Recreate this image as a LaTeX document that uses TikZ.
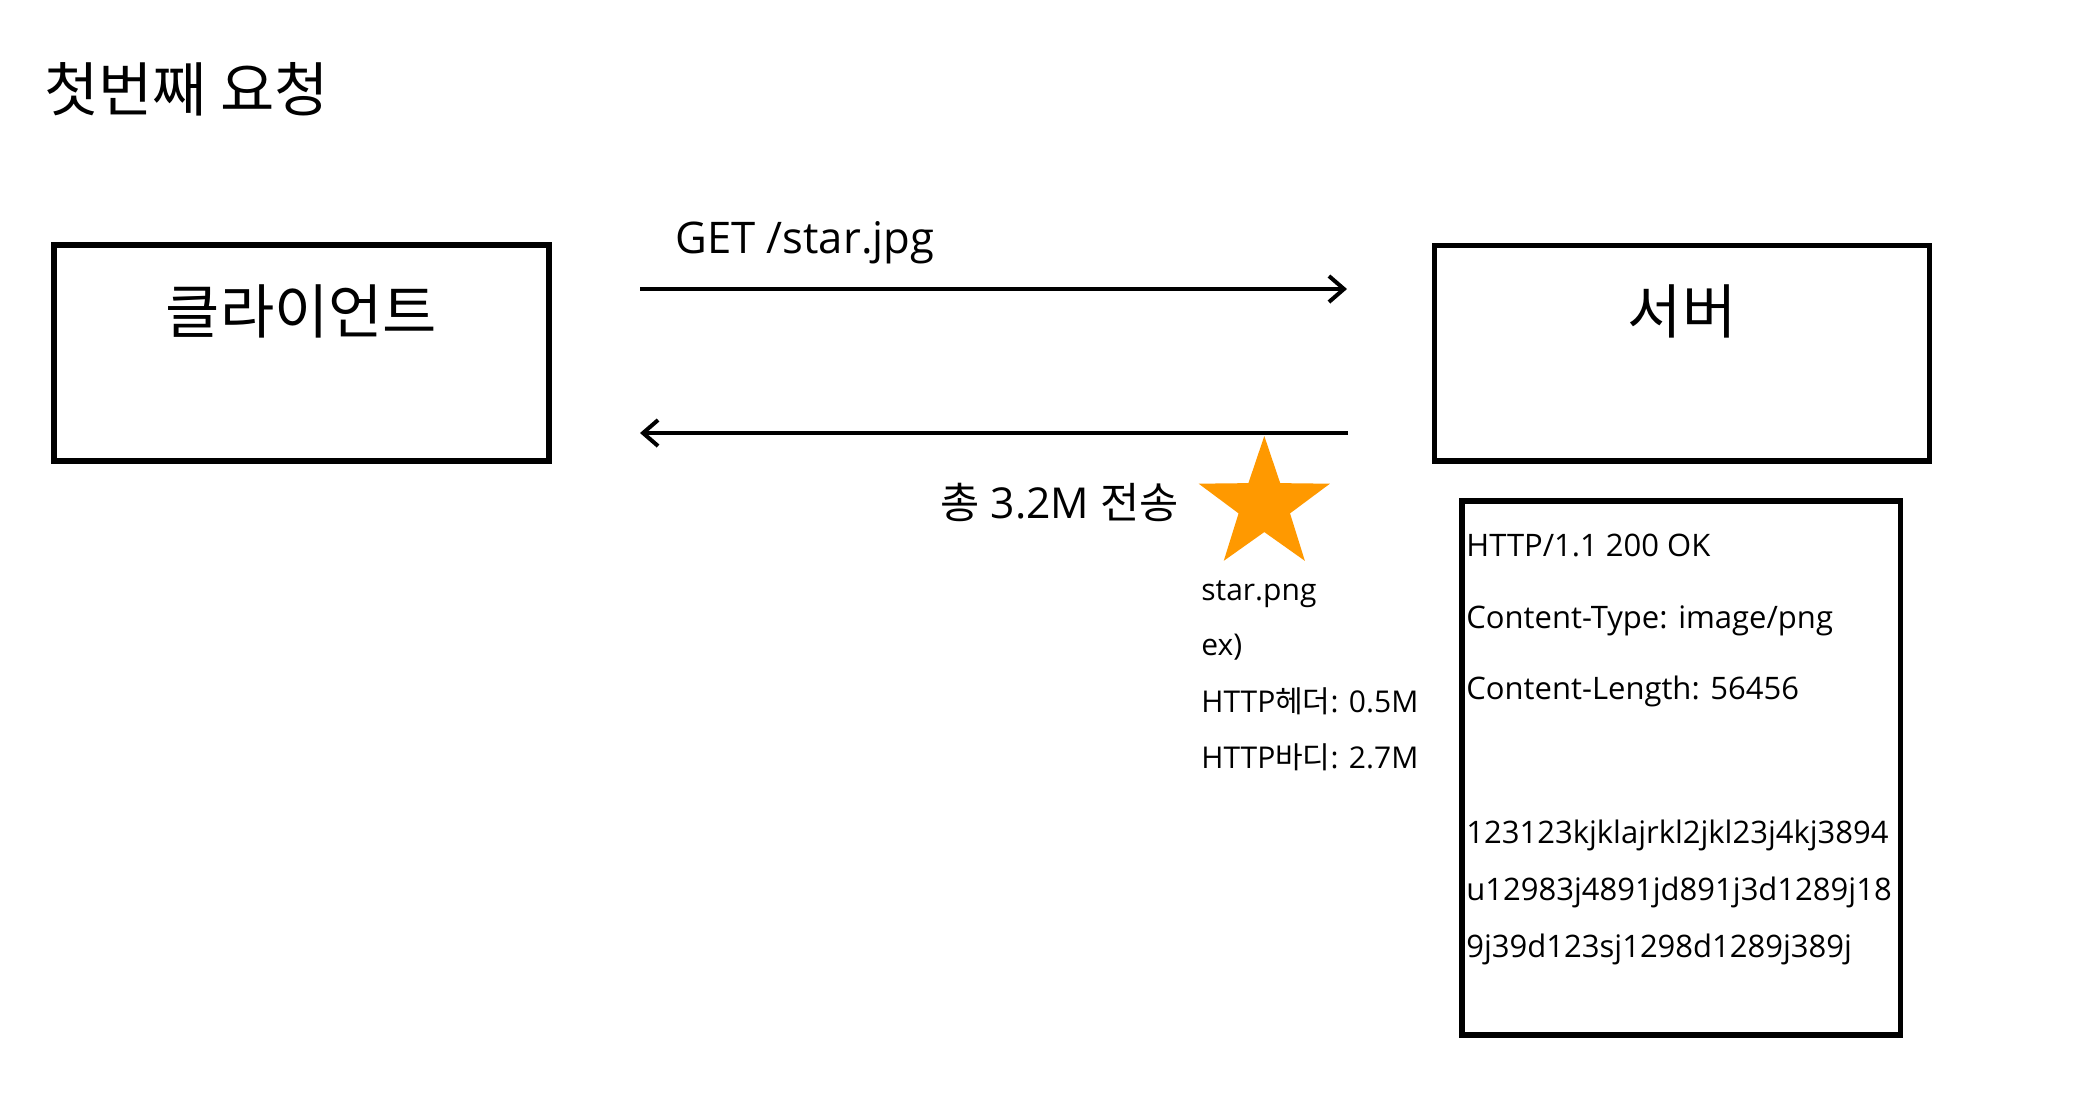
\documentclass[tikz,border=0pt]{standalone}
\usepackage{fontspec}
\setmainfont{Open Sans}
\newfontfamily\kr{Noto Sans CJK KR}
\usetikzlibrary{arrows.meta,shapes.geometric}
\definecolor{starorange}{HTML}{FF9900}
\begin{document}
\begin{tikzpicture}[x=0.5pt,y=-0.5pt,
  boxnode/.style={draw=black, line width=2.75pt, rectangle, inner sep=0pt},
  biglabel/.style={font=\kr\fontsize{29.5}{35}\selectfont, inner sep=0pt},
  msgarrow/.style={line width=2pt, -{Straight Barb[length=7.5pt,width=13pt]}},
  gettext/.style={anchor=base west, inner sep=0pt, font=\fontsize{21.8}{26}\selectfont},
  infotext/.style={anchor=base west, inner sep=0pt, font=\fontsize{15}{18}\selectfont},
  resptext/.style={anchor=base west, inner sep=0pt, font=\fontsize{15.5}{19}\selectfont}
]
\useasboundingbox[fill=white] (0,0) rectangle (2100,1116);

% title
\node[biglabel, anchor=west] (title) at (44,89.5) {첫번째 요청};

% boxes
\node[boxnode, minimum width=247.5pt, minimum height=108pt] (client) at (301.5,353) {};
\node[biglabel] (clientlabel) at (301.5,311) {클라이언트};
\node[boxnode, minimum width=247.5pt, minimum height=107.75pt] (server) at (1682,353.25) {};
\node[biglabel] (serverlabel) at (1682,311) {서버};

% arrows
\coordinate (reqstart) at (640,289);
\coordinate (reqend) at (1347,289);
\coordinate (resstart) at (1348,433);
\coordinate (resend) at (640,433);
\draw[msgarrow] (reqstart) -- (reqend);
\draw[msgarrow] (resstart) -- (resend);

\node[gettext] (get) at (675,253) {GET /star.jpg};
\node[gettext, font=\fontsize{21.3}{26}\selectfont] (total) at (940,518) {{\kr 총} 3.2M {\kr 전송}};

% star
\node[star, star points=5, star point ratio=2.55, minimum size=69pt, inner sep=0pt,
      fill=starorange, draw=none] (star) at (1264.3,505) {};

\node[infotext] (i1) at (1201,600) {star.png};
\node[infotext] (i2) at (1201,655) {ex)};
\node[infotext] (i3) at (1201,712) {HTTP{\kr 헤더}: 0.5M};
\node[infotext] (i4) at (1201,768) {HTTP{\kr 바디}: 2.7M};

% response box
\node[boxnode, minimum width=219.25pt, minimum height=267pt] (resp) at (1681.25,768) {};
\node[resptext] (r1) at (1466,556) {HTTP/1.1 200 OK};
\node[resptext] (r2) at (1466,628) {Content-Type: image/png};
\node[resptext] (r3) at (1466,699) {Content-Length: 56456};
\node[resptext] (r4) at (1466,843) {123123kjklajrkl2jkl23j4kj3894};
\node[resptext] (r5) at (1466,900) {u12983j4891jd891j3d1289j18};
\node[resptext] (r6) at (1466,957) {9j39d123sj1298d1289j389j};
\end{tikzpicture}
\end{document}
